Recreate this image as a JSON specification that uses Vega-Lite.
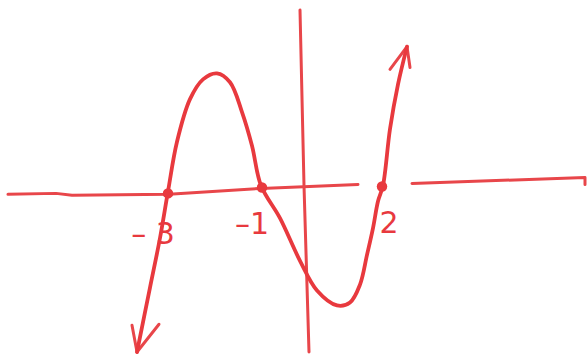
{
  "$schema": "https://vega.github.io/schema/vega-lite/v6.json",
  "width": 588,
  "height": 360,
  "autosize": {"type": "fit", "contains": "padding"},
  "padding": 0,
  "background": "#ffffff",
  "config": {"view": {"stroke": null}},
  "datasets": {
    "curve": [
      {"i": 1, "x": -4.175, "y": -4.175},
      {"i": 2, "x": -3.85, "y": -2.55},
      {"i": 3, "x": -3.6, "y": -1.3},
      {"i": 4, "x": -3.4, "y": -0.125},
      {"i": 5, "x": -3.175, "y": 1.125},
      {"i": 6, "x": -2.85, "y": 2.2},
      {"i": 7, "x": -2.525, "y": 2.7},
      {"i": 8, "x": -2.175, "y": 2.85},
      {"i": 9, "x": -1.85, "y": 2.625},
      {"i": 10, "x": -1.55, "y": 1.875},
      {"i": 11, "x": -1.3, "y": 1.025},
      {"i": 12, "x": -1.075, "y": 0.025},
      {"i": 13, "x": -0.6, "y": -0.8},
      {"i": 14, "x": -0.1, "y": -1.875},
      {"i": 15, "x": 0.325, "y": -2.625},
      {"i": 16, "x": 0.825, "y": -3.0},
      {"i": 17, "x": 1.15, "y": -2.925},
      {"i": 18, "x": 1.4, "y": -2.475},
      {"i": 19, "x": 1.575, "y": -1.725},
      {"i": 20, "x": 1.725, "y": -1.05},
      {"i": 21, "x": 1.85, "y": -0.375},
      {"i": 22, "x": 1.975, "y": 0.025},
      {"i": 23, "x": 2.15, "y": 1.45},
      {"i": 24, "x": 2.35, "y": 2.575},
      {"i": 25, "x": 2.575, "y": 3.525}
    ],
    "strokes": [
      {"path": "xaxisL", "i": 1, "x": -7.4, "y": -0.2},
      {"path": "xaxisL", "i": 2, "x": -6.2, "y": -0.175},
      {"path": "xaxisL", "i": 3, "x": -5.8, "y": -0.22},
      {"path": "xaxisL", "i": 4, "x": -3.375, "y": -0.2},
      {"path": "xaxisL", "i": 5, "x": -1.075, "y": -0.05},
      {"path": "xaxisL", "i": 6, "x": 1.35, "y": 0.05},
      {"path": "xaxisR", "i": 1, "x": 2.7, "y": 0.075},
      {"path": "xaxisR", "i": 2, "x": 7.025, "y": 0.225},
      {"path": "xaxisR", "i": 3, "x": 7.025, "y": 0.05},
      {"path": "yaxis", "i": 1, "x": -0.1, "y": 4.45},
      {"path": "yaxis", "i": 2, "x": 0.0, "y": 0.025},
      {"path": "yaxis", "i": 3, "x": 0.125, "y": -4.175},
      {"path": "arrowTop", "i": 1, "x": 2.15, "y": 2.95},
      {"path": "arrowTop", "i": 2, "x": 2.575, "y": 3.525},
      {"path": "arrowTop", "i": 3, "x": 2.65, "y": 3.0},
      {"path": "arrowBot", "i": 1, "x": -4.3, "y": -3.5},
      {"path": "arrowBot", "i": 2, "x": -4.175, "y": -4.175},
      {"path": "arrowBot", "i": 3, "x": -3.625, "y": -3.475}
    ],
    "roots": [
      {"x": -3.4, "y": -0.175, "label": "– 3", "lx": -3.775, "ly": -1.225},
      {"x": -1.05, "y": -0.025, "label": "–1", "lx": -1.3, "ly": -0.975},
      {"x": 1.95, "y": 0.0, "label": "2", "lx": 2.125, "ly": -0.95}
    ]
  },
  "layer": [
    {
      "data": {"name": "strokes"},
      "mark": {"type": "line", "color": "#e8464a", "strokeWidth": 3, "strokeCap": "round", "strokeJoin": "round"},
      "encoding": {
        "x": {"field": "x", "type": "quantitative", "scale": {"domain": [-7.6, 7.1], "nice": false, "zero": false}, "axis": null},
        "y": {"field": "y", "type": "quantitative", "scale": {"domain": [-4.3, 4.7], "nice": false, "zero": false}, "axis": null},
        "detail": {"field": "path"},
        "order": {"field": "i"}
      }
    },
    {
      "data": {"name": "curve"},
      "mark": {"type": "line", "color": "#e8393e", "strokeWidth": 3.8, "strokeCap": "round", "interpolate": "catmull-rom"},
      "encoding": {
        "x": {"field": "x", "type": "quantitative"},
        "y": {"field": "y", "type": "quantitative"},
        "order": {"field": "i"}
      }
    },
    {
      "data": {"name": "roots"},
      "mark": {"type": "point", "filled": true, "color": "#e8393e", "size": 110, "opacity": 1},
      "encoding": {
        "x": {"field": "x", "type": "quantitative"},
        "y": {"field": "y", "type": "quantitative"}
      }
    },
    {
      "data": {"name": "roots"},
      "mark": {"type": "text", "color": "#e8393e", "fontSize": 30, "font": "DejaVu Sans", "fontWeight": "normal", "align": "center", "baseline": "middle"},
      "encoding": {
        "x": {"field": "lx", "type": "quantitative"},
        "y": {"field": "ly", "type": "quantitative"},
        "text": {"field": "label"}
      }
    }
  ]
}
